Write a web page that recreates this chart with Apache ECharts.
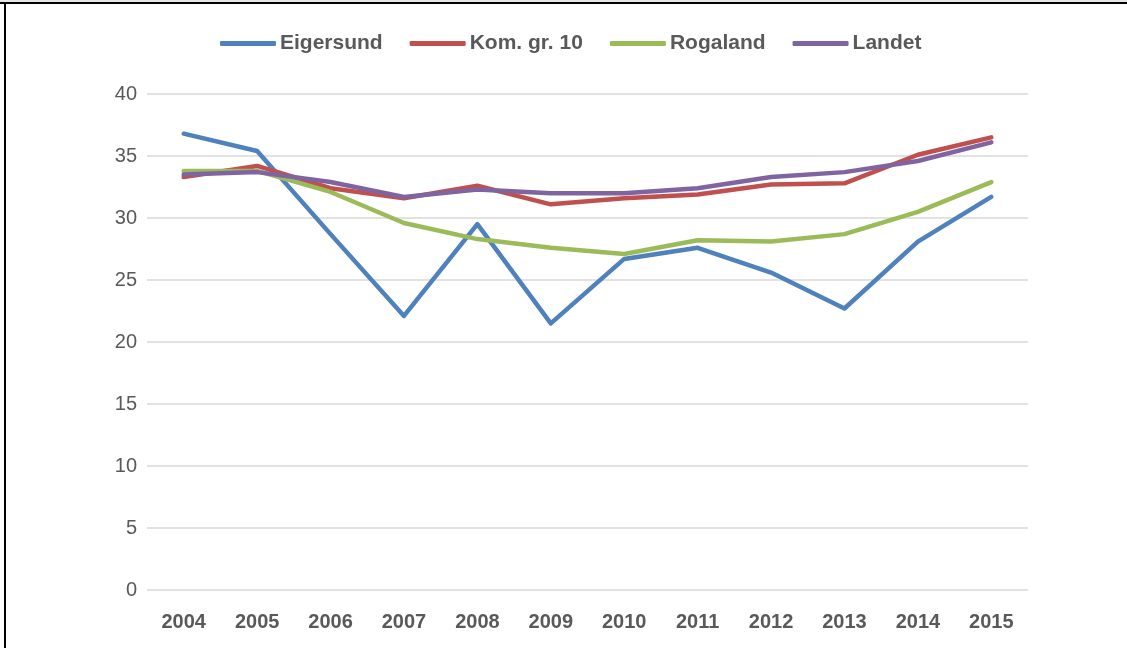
<!DOCTYPE html>
<html>
<head>
<meta charset="utf-8">
<script src="https://cdn.jsdelivr.net/npm/echarts@6/dist/echarts.min.js"></script>
<style>
html,body{margin:0;padding:0;background:#fff;}
#chart{width:1127px;height:648px;}
</style>
</head>
<body>
<div id="chart"></div>
<script>
const years = ['2004','2005','2006','2007','2008','2009','2010','2011','2012','2013','2014','2015'];
const eigersund = [36.8, 35.4, 28.7, 22.1, 29.5, 21.5, 26.7, 27.6, 25.6, 22.7, 28.1, 31.7];
const komGr10 = [33.3, 34.2, 32.4, 31.6, 32.6, 31.1, 31.6, 31.9, 32.7, 32.8, 35.1, 36.5];
const rogaland = [33.8, 33.8, 32.1, 29.6, 28.3, 27.6, 27.1, 28.2, 28.1, 28.7, 30.5, 32.9];
const landet = [33.5, 33.7, 32.9, 31.7, 32.3, 32.0, 32.0, 32.4, 33.3, 33.7, 34.6, 36.1];
const yTicks = [0, 5, 10, 15, 20, 25, 30, 35, 40];

const seriesDefs = [
  {name: 'Eigersund', data: eigersund, color: '#4F81BD'},
  {name: 'Kom. gr. 10', data: komGr10, color: '#C0504D'},
  {name: 'Rogaland', data: rogaland, color: '#9BBB59'},
  {name: 'Landet', data: landet, color: '#8064A2'}
];

const chart = echarts.init(document.getElementById('chart'), null, {renderer: 'canvas'});
const font = '"Liberation Sans", Arial, sans-serif';
chart.setOption({
  animation: false,
  backgroundColor: '#ffffff',
  textStyle: {fontFamily: font},
  legend: {
    top: 28,
    left: 215,
    itemWidth: 56,
    itemHeight: 5,
    itemGap: 27,
    icon: 'roundRect',
    textStyle: {fontFamily: font, fontSize: 21, fontWeight: 'bold', color: '#595959', padding: [0, 0, 0, -1]},
    data: seriesDefs.map(s => ({name: s.name, itemStyle: {color: s.color}}))
  },
  grid: {left: 147, right: 99, top: 94, bottom: 58},
  xAxis: {
    type: 'category',
    data: years,
    boundaryGap: true,
    axisLine: {show: false},
    axisTick: {show: false},
    axisLabel: {fontFamily: font, fontSize: 20, fontWeight: 'bold', color: '#595959', margin: 22}
  },
  yAxis: {
    type: 'value',
    min: yTicks[0],
    max: yTicks[yTicks.length - 1],
    interval: yTicks[1] - yTicks[0],
    axisLine: {show: false},
    axisTick: {show: false},
    axisLabel: {fontFamily: font, fontSize: 20, color: '#595959', margin: 10},
    splitLine: {lineStyle: {color: '#D9D9D9', width: 1.6}}
  },
  series: seriesDefs.map(s => ({
    name: s.name,
    type: 'line',
    data: s.data,
    symbol: 'none',
    color: s.color,
    lineStyle: {color: s.color, width: 4.5, cap: 'round', join: 'round'}
  })),
  graphic: [
    {type: 'rect', shape: {x: 0, y: 0, width: 1127, height: 2}, style: {fill: '#e6e6e6'}, silent: true},
    {type: 'rect', shape: {x: 0, y: 2, width: 1127, height: 2}, style: {fill: '#000000'}, silent: true},
    {type: 'rect', shape: {x: 4, y: 2, width: 2, height: 646}, style: {fill: '#000000'}, silent: true}
  ]
});
</script>
</body>
</html>
